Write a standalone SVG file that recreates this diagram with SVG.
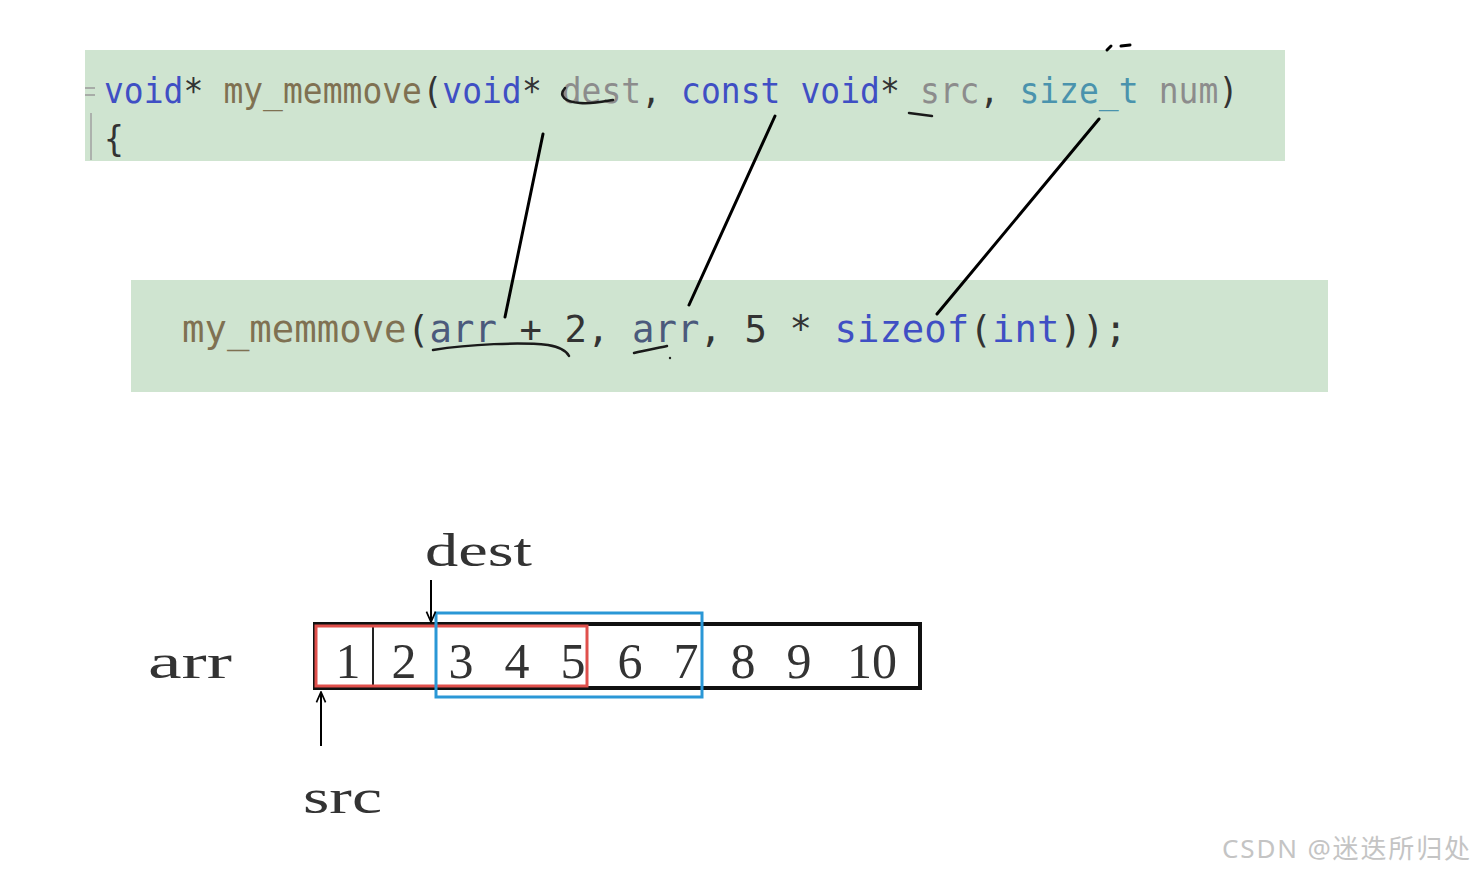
<svg xmlns="http://www.w3.org/2000/svg" width="1475" height="874" viewBox="0 0 1475 874">
<style>
.panel{fill:#cfe4d0}
.c1{font-family:"DejaVu Sans Mono","Liberation Mono",monospace;font-size:33px}
.c2{font-family:"DejaVu Sans Mono","Liberation Mono",monospace;font-size:37.3px}
.kw{fill:#3f4fc4}
.fn{fill:#7f7152}
.par{fill:#8c8c8c}
.ty{fill:#4a93ad}
.pl{fill:#333333}
.var{fill:#4b5a7c}
.serif{font-family:"Liberation Serif","DejaVu Serif",serif;fill:#333333}
.ink{stroke:#000000;stroke-width:3;fill:none;stroke-linecap:round}
.squig{stroke:#1a1a1a;stroke-width:2.5;fill:none;stroke-linecap:round}
</style>
<defs>
<marker id="ah" viewBox="0 0 10 10" refX="9" refY="5" markerWidth="13" markerHeight="13" orient="auto-start-reverse" markerUnits="userSpaceOnUse">
<path d="M1,1.5 L9,5 L1,8.5" fill="none" stroke="#000" stroke-width="1.3"/>
</marker>
</defs>
<rect width="1475" height="874" fill="#ffffff"/>

<g id="code-declaration">
<rect class="panel" x="85" y="50" width="1200" height="111"/>
<line x1="85" y1="88" x2="95" y2="88" stroke="#9a9a9a" stroke-width="1.5"/>
<line x1="85" y1="95" x2="95" y2="95" stroke="#9a9a9a" stroke-width="1.5"/>
<line x1="91" y1="113" x2="91" y2="160" stroke="#a0a0a0" stroke-width="1.5"/>
<g class="c1" transform="matrix(1,0,0,1.1,0,-10.3)">
<text class="kw" x="104" y="103">void</text>
<text class="pl" x="183.6" y="103">*</text>
<text class="fn" x="223.4" y="103">my_memmove</text>
<text class="pl" x="422.4" y="103">(</text>
<text class="kw" x="442.3" y="103">void</text>
<text class="pl" x="521.9" y="103">*</text>
<text class="par" x="561.7" y="103">dest</text>
<text class="pl" x="641.3" y="103">,</text>
<text class="kw" x="681.1" y="103">const</text>
<text class="kw" x="800.5" y="103">void</text>
<text class="pl" x="880.1" y="103">*</text>
<text class="par" x="919.9" y="103">src</text>
<text class="pl" x="979.6" y="103">,</text>
<text class="ty" x="1019.4" y="103">size_t</text>
<text class="par" x="1158.7" y="103">num</text>
<text class="pl" x="1218.4" y="103">)</text>
<text class="pl" x="104" y="146.5">{</text>
</g>
</g>

<g id="code-call">
<rect class="panel" x="131" y="280" width="1197" height="112"/>
<g class="c2">
<text class="fn" x="182" y="342">my_memmove</text>
<text class="pl" x="407" y="342">(</text>
<text class="var" x="429.5" y="342">arr</text>
<text class="pl" x="519.5" y="342">+</text>
<text class="pl" x="564.5" y="342">2</text>
<text class="pl" x="587" y="342">,</text>
<text class="var" x="632" y="342">arr</text>
<text class="pl" x="699.5" y="342">,</text>
<text class="pl" x="744.5" y="342">5</text>
<text class="pl" x="789.5" y="342">*</text>
<text class="kw" x="834.5" y="342">sizeof</text>
<text class="pl" x="969.5" y="342">(</text>
<text class="kw" x="992" y="342">int</text>
<text class="pl" x="1059.5" y="342">));</text>
</g>
</g>

<g id="connectors">
<line class="ink" x1="543" y1="134" x2="505" y2="317"/>
<line class="ink" x1="775" y1="116" x2="689" y2="305"/>
<line class="ink" x1="1099" y1="119" x2="937" y2="314"/>
<path class="ink" d="M1107,50 L1111,46 M1121,46 L1130,45" stroke-width="2.5"/>
<path class="squig" d="M565,88 C558,96 565,102 580,103 C595,104 606,101 613,100"/>
<path class="squig" d="M909,113 L932,116"/>
<path class="squig" d="M433,350 C470,344 520,342 548,345 C560,347 566,350 569,356"/>
<path class="squig" d="M634,353 C645,350 658,348 667,346"/>
<circle cx="670" cy="358" r="1.2" fill="#222"/>
</g>

<g id="array">
<rect x="315" y="624" width="605" height="64" fill="#ffffff" stroke="#111111" stroke-width="4"/>
<line x1="373" y1="627" x2="373" y2="686" stroke="#222" stroke-width="2"/>
<rect x="316" y="626" width="271" height="60" fill="none" stroke="#e0504c" stroke-width="3"/>
<rect x="436" y="613" width="266" height="84" fill="none" stroke="#2a97d6" stroke-width="3"/>
<g class="serif" font-size="50" text-anchor="middle">
<text x="348" y="678">1</text>
<text x="404" y="678">2</text>
<text x="461" y="678">3</text>
<text x="517" y="678">4</text>
<text x="573" y="678">5</text>
<text x="630" y="678">6</text>
<text x="686" y="678">7</text>
<text x="743" y="678">8</text>
<text x="799" y="678">9</text>
<text x="872" y="678">10</text>
</g>
</g>

<g id="label-arr">
<text class="serif" x="148" y="678" font-size="48" textLength="84" lengthAdjust="spacingAndGlyphs">arr</text>
</g>

<g id="label-dest">
<text class="serif" x="425" y="566" font-size="46" textLength="107" lengthAdjust="spacingAndGlyphs">dest</text>
<line x1="431" y1="580" x2="431" y2="622" stroke="#000" stroke-width="2" marker-end="url(#ah)"/>
</g>

<g id="label-src">
<text class="serif" x="303" y="813" font-size="48" textLength="79" lengthAdjust="spacingAndGlyphs">src</text>
<line x1="321" y1="746" x2="321" y2="692" stroke="#000" stroke-width="2" marker-end="url(#ah)"/>
</g>

<text x="1222" y="858" font-family="'Noto Sans','Noto Sans CJK SC',sans-serif" font-size="26" fill="#c4c4c4" textLength="248">CSDN @迷迭所归处</text>
</svg>
